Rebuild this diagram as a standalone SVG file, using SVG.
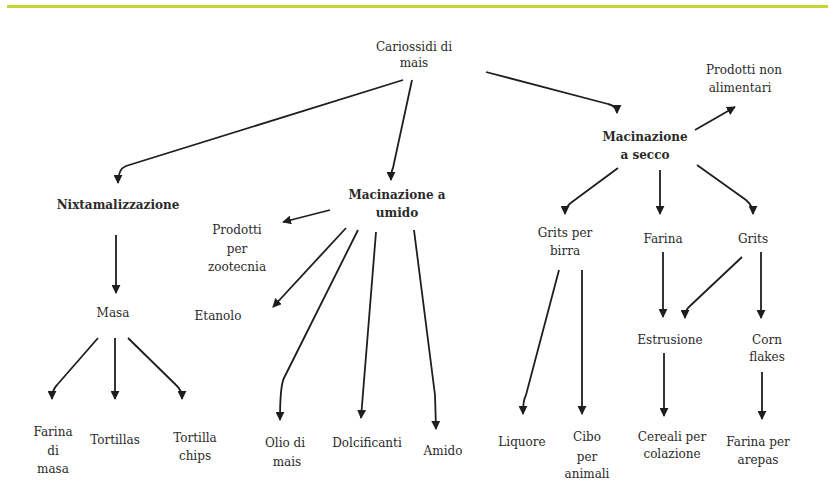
<svg xmlns="http://www.w3.org/2000/svg" width="829" height="497" viewBox="0 0 829 497">
<defs>
<style>
text{font-family:'DejaVu Serif',serif;font-size:12px;fill:#2a2a2a;text-anchor:middle}
.b{font-weight:bold;font-size:12px}
.c{fill:none;stroke:#1e1e1e;stroke-width:1.8}
</style>
<marker id="ah" markerUnits="userSpaceOnUse" markerWidth="9" markerHeight="9" viewBox="0 0 10 10" refX="9" refY="5" orient="auto">
<path d="M0,0 L10,5 L0,10 z" fill="#1e1e1e"/>
</marker>
</defs>
<rect width="829" height="497" fill="#fff"/>
<rect x="7" y="5" width="821" height="3" fill="#c5d72e"/>

<g id="connectors">
<path class="c" marker-end="url(#ah)" d="M403,80 L126,166 Q118,169 118,183"/>
<path class="c" marker-end="url(#ah)" d="M412,80 L393,168 Q391,172 391,180"/>
<path class="c" marker-end="url(#ah)" d="M486,72 L608,104 Q617,106 617,113"/>
<path class="c" marker-end="url(#ah)" d="M116,235 L116,293"/>
<path class="c" marker-end="url(#ah)" d="M98,338 L57,385 Q52,390 52,399"/>
<path class="c" marker-end="url(#ah)" d="M115,338 L115,399"/>
<path class="c" marker-end="url(#ah)" d="M128,338 L176,385 Q182,390 182,399"/>
<path class="c" marker-end="url(#ah)" d="M330,210 L283,222"/>
<path class="c" marker-end="url(#ah)" d="M346,228 L273,307"/>
<path class="c" marker-end="url(#ah)" d="M358,230 L284,378 Q280,386 280,420"/>
<path class="c" marker-end="url(#ah)" d="M376,232 L361,418"/>
<path class="c" marker-end="url(#ah)" d="M414,230 L435,395 L436,429"/>
<path class="c" marker-end="url(#ah)" d="M695,130 L735,107"/>
<path class="c" marker-end="url(#ah)" d="M618,168 L572,202 Q565,207 565,214"/>
<path class="c" marker-end="url(#ah)" d="M660,170 L660,214"/>
<path class="c" marker-end="url(#ah)" d="M697,165 L746,200 Q753,206 753,214"/>
<path class="c" marker-end="url(#ah)" d="M663,252 L663,317"/>
<path class="c" marker-end="url(#ah)" d="M742,257 L690,306 Q685,310 685,318"/>
<path class="c" marker-end="url(#ah)" d="M761,252 L761,318"/>
<path class="c" marker-end="url(#ah)" d="M559,270 L526,395 Q523,400 523,414"/>
<path class="c" marker-end="url(#ah)" d="M582,270 L582,414"/>
<path class="c" marker-end="url(#ah)" d="M664,353 L664,416"/>
<path class="c" marker-end="url(#ah)" d="M762,372 L762,419"/>
</g>

<g id="cariossidi"><text x="414" y="51">Cariossidi di</text><text x="414" y="67">mais</text></g>
<g id="nixtamalizzazione"><text class="b" x="118" y="209">Nixtamalizzazione</text></g>
<g id="masa"><text x="113" y="317">Masa</text></g>
<g id="farina-di-masa"><text x="53" y="436">Farina</text><text x="53" y="455">di</text><text x="53" y="473">masa</text></g>
<g id="tortillas"><text x="115" y="444">Tortillas</text></g>
<g id="tortilla-chips"><text x="195" y="442">Tortilla</text><text x="195" y="460">chips</text></g>
<g id="macinazione-umido"><text class="b" x="397" y="199">Macinazione a</text><text class="b" x="397" y="217">umido</text></g>
<g id="prodotti-zootecnia"><text x="237" y="234">Prodotti</text><text x="237" y="253">per</text><text x="237" y="271">zootecnia</text></g>
<g id="etanolo"><text x="218" y="320">Etanolo</text></g>
<g id="olio"><text x="285" y="447">Olio di</text><text x="287" y="466">mais</text></g>
<g id="dolcificanti"><text x="367" y="447">Dolcificanti</text></g>
<g id="amido"><text x="443" y="455">Amido</text></g>
<g id="macinazione-secco"><text class="b" x="645" y="141">Macinazione</text><text class="b" x="645" y="159">a secco</text></g>
<g id="prodotti-non-alimentari"><text x="744" y="74">Prodotti non</text><text x="740" y="92">alimentari</text></g>
<g id="grits-birra"><text x="565" y="237">Grits per</text><text x="565" y="255">birra</text></g>
<g id="farina"><text x="663" y="243">Farina</text></g>
<g id="grits"><text x="753" y="243">Grits</text></g>
<g id="estrusione"><text x="670" y="344">Estrusione</text></g>
<g id="corn-flakes"><text x="767" y="344">Corn</text><text x="767" y="361">flakes</text></g>
<g id="liquore"><text x="522" y="446">Liquore</text></g>
<g id="cibo"><text x="587" y="441">Cibo</text><text x="587" y="461">per</text><text x="587" y="478">animali</text></g>
<g id="cereali"><text x="672" y="441">Cereali per</text><text x="672" y="458">colazione</text></g>
<g id="farina-arepas"><text x="758" y="446">Farina per</text><text x="758" y="464">arepas</text></g>
</svg>
